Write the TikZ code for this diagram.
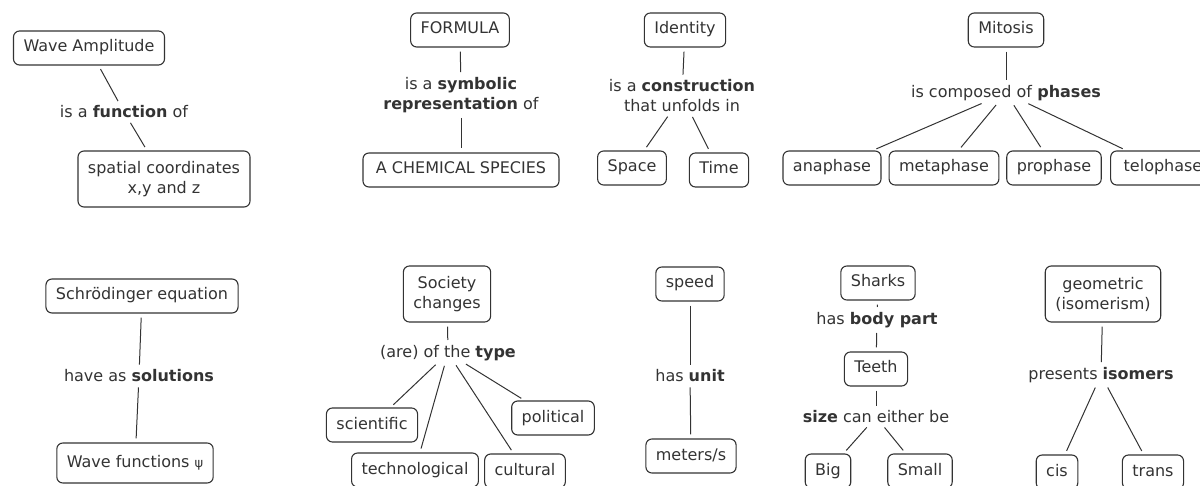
\documentclass[tikz,border=0pt]{standalone}
\usepackage{fontspec}
\setmainfont{DejaVu Sans}
\begin{document}
\begin{tikzpicture}[x=1pt,y=-1pt,
  every node/.style={font=\fontsize{16}{20}\selectfont, text=black!80},
  box/.style={draw=black!80, line width=1.1pt, rounded corners=6pt, inner xsep=10pt, inner ysep=0pt, minimum height=34pt, text height=12pt, text depth=4pt},
  boxtwo/.style={draw=black!80, line width=1.1pt, rounded corners=6pt, inner xsep=10pt, inner ysep=4pt, minimum height=56pt, align=center},
  lab/.style={inner sep=1pt, align=center},
  link/.style={draw=black!80, line width=1pt, shorten <=4pt, shorten >=4pt}]
\useasboundingbox (0,0) rectangle (1200,486);
% Wave amplitude
\node[box] (wa) at (89,48) {Wave Amplitude};
\node[lab] (l1) at (124,112) {is a \textbf{function} of};
\node[boxtwo] (sc) at (164,179) {spatial coordinates\\x,y and z};
\draw[link] (wa) -- (l1);
\draw[link] (l1) -- (sc);
% Formula
\node[box] (fo) at (460,30) {FORMULA};
\node[lab] (l2) at (461,95) {is a \textbf{symbolic}\\\textbf{representation} of};
\node[box, inner xsep=13pt] (ch) at (461,170) {A CHEMICAL SPECIES};
\draw[link] (fo) -- (l2);
\draw[link] (l2) -- (ch);
% Identity
\node[box] (id) at (685,30) {Identity};
\node[lab] (l3) at (682,96) {is a \textbf{construction}\\that unfolds in};
\node[box] (sp) at (632,168) {Space};
\node[box] (ti) at (719,170) {Time};
\draw[link] (id) -- (l3);
\draw[link] (l3) -- (sp);
\draw[link] (l3) -- (ti);
% Mitosis
\node[box] (mi) at (1006,30) {Mitosis};
\node[lab] (l4) at (1006,93) {is composed of \textbf{phases}};
\node[box] (ana) at (832,168) {anaphase};
\node[box] (meta) at (944,168) {metaphase};
\node[box] (pro) at (1054,168) {prophase};
\node[box, inner xsep=13pt] (telo) at (1163,168) {telophase};
\draw[link] (mi) -- (l4);
\draw[link] (l4) -- (ana);
\draw[link] (l4) -- (meta);
\draw[link] (l4) -- (pro);
\draw[link] (l4) -- (telo);
% Schroedinger
\node[box] (sch) at (142,296) {Schrödinger equation};
\node[lab] (l5) at (139,376) {have as \textbf{solutions}};
\node[box, minimum height=40pt] (wf) at (135,463) {Wave functions {\fontsize{13}{20}\selectfont ψ}};
\draw[link] (sch) -- (l5);
\draw[link] (l5) -- (wf);
% Society
\node[boxtwo] (soc) at (447,294) {Society\\changes};
\node[lab] (l6) at (448,353) {(are) of the \textbf{type}};
\node[box] (sci) at (372,425) {scientific};
\node[box] (pol) at (553,418) {political};
\node[box] (tech) at (415,470) {technological};
\node[box] (cul) at (525,471) {cultural};
\draw[link] (soc) -- (l6);
\draw[link] (l6) -- (sci);
\draw[link] (l6) -- (tech);
\draw[link] (l6) -- (cul);
\draw[link] (l6) -- (pol);
% Speed
\node[box] (spd) at (690,284) {speed};
\node[lab] (l7) at (690,376) {has \textbf{unit}};
\node[box] (ms) at (691,456) {meters/s};
\draw[link] (spd) -- (l7);
\draw[link] (l7) -- (ms);
% Sharks
\node[box] (sh) at (878,283) {Sharks};
\node[lab] (l8) at (877,320) {has \textbf{body part}};
\node[box] (te) at (876,369) {Teeth};
\node[lab] (l9) at (876,417) {\textbf{size} can either be};
\node[box] (big) at (828,471) {Big};
\node[box] (sm) at (920,471) {Small};
\draw[link] (sh) -- (l8);
\draw[link] (l8) -- (te);
\draw[link] (te) -- (l9);
\draw[link] (l9) -- (big);
\draw[link] (l9) -- (sm);
% Geometric
\node[boxtwo] (geo) at (1103,294) {geometric\\(isomerism)};
\node[lab] (l10) at (1101,375) {presents \textbf{isomers}};
\node[box] (cis) at (1057,472) {cis};
\node[box] (tr) at (1153,472) {trans};
\draw[link] (geo) -- (l10);
\draw[link] (l10) -- (cis);
\draw[link] (l10) -- (tr);
\end{tikzpicture}
\end{document}
